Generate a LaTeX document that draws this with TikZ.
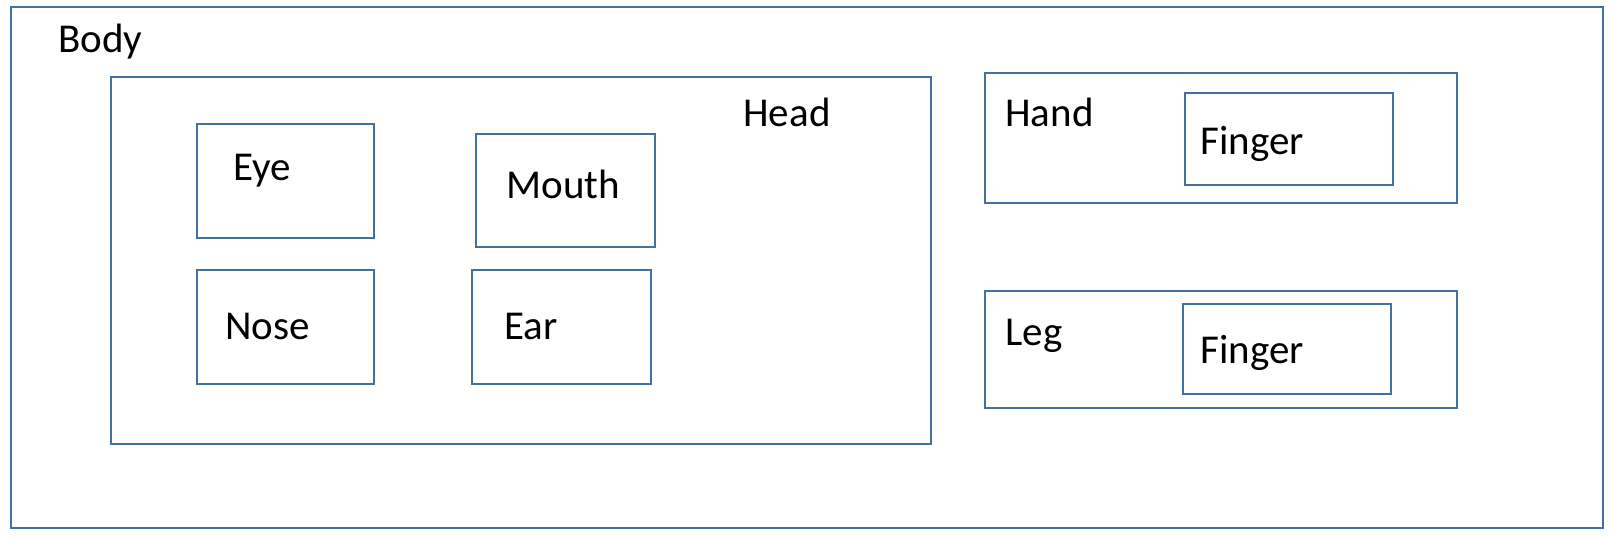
\documentclass[tikz,border=0pt]{standalone}
\usepackage{fontspec}
\setmainfont{Carlito}
\usetikzlibrary{fit}
\definecolor{boxblue}{RGB}{65,113,156}
\tikzset{
  box/.style={draw=boxblue, line width=1.1pt, inner sep=0pt, rectangle},
  lbl/.style={anchor=base west, inner sep=0pt, font=\fontsize{20.5pt}{24pt}\selectfont, text=black},
}
\begin{document}
\begin{tikzpicture}[x=0.5pt,y=-0.5pt]
\useasboundingbox (0,0) rectangle (1612,536);
% containers
\node[box, fit={(11,7)(1603,528)}] (body) {};
\node[box, fit={(111,77)(931,444)}] (head) {};
\node[box, fit={(985,73)(1457,203)}] (hand) {};
\node[box, fit={(985,291)(1457,408)}] (leg) {};
% inner boxes
\node[box, fit={(197,124)(374,238)}] (eye) {};
\node[box, fit={(476,134)(655,247)}] (mouth) {};
\node[box, fit={(197,270)(374,384)}] (nose) {};
\node[box, fit={(472,270)(651,384)}] (ear) {};
\node[box, fit={(1185,93)(1393,185)}] (finger1) {};
\node[box, fit={(1183,304)(1391,394)}] (finger2) {};
% labels
\node[lbl] (bodyl) at (58,52) {Body};
\node[lbl] (headl) at (743,126) {Head};
\node[lbl] (eyel) at (233,180) {Eye};
\node[lbl] (mouthl) at (506,198) {Mouth};
\node[lbl] (nosel) at (225,339) {Nose};
\node[lbl] (earl) at (504,339) {Ear};
\node[lbl] (handl) at (1005,126) {Hand};
\node[lbl] (finger1l) at (1200,154) {Finger};
\node[lbl] (legl) at (1005,345) {Leg};
\node[lbl] (finger2l) at (1200,363) {Finger};
\end{tikzpicture}
\end{document}
